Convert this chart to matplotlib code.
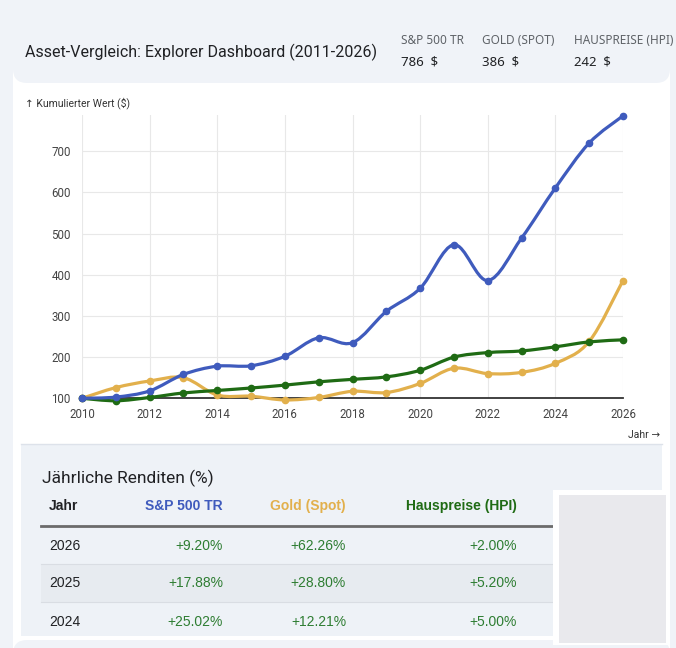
import numpy as np
import matplotlib
matplotlib.use("Agg")
import matplotlib.pyplot as plt
from matplotlib.path import Path
from matplotlib.patches import PathPatch, FancyBboxPatch
from matplotlib.transforms import Affine2D
from matplotlib.lines import Line2D

# --- data ---
years = list(range(2010, 2027))
sp500 = [100, 103, 118, 158, 178, 179, 202, 247, 235, 311, 367, 473, 386, 489, 611, 720, 786]
gold = [100, 126, 142, 150, 108, 105, 96, 102, 117, 114, 136, 173, 160, 163, 185, 238, 386]
hpi = [100, 94, 102, 113, 119, 125, 132, 140, 146, 152, 168, 200, 211, 215, 225, 237, 242]

series_names = ["S&P 500 TR", "Gold (Spot)", "Hauspreise (HPI)"]
kpi_labels = ["S&P 500 TR", "GOLD (SPOT)", "HAUSPREISE (HPI)"]
colors = ["#3f5bbd", "#e2b04c", "#1f6b14"]

table_years = [2026, 2025, 2024]
ret_sp500 = [9.20, 17.88, 25.02]
ret_gold = [62.26, 28.80, 12.21]
ret_hpi = [2.00, 5.20, 5.00]

W, H = 676, 648
fig = plt.figure(figsize=(W / 100, H / 100), dpi=100)
fig.patch.set_facecolor("#f0f3f8")
# pixel coords, origin top-left
pix = Affine2D().scale(1 / W, -1 / H).translate(0, 1) + fig.transFigure


def box(x0, y0, x1, y1, fc, r=0, z=-2):
    p = FancyBboxPatch((x0, y1), x1 - x0, y0 - y1,
                       boxstyle=f"round,pad=0,rounding_size={r}" if r else "square,pad=0",
                       transform=pix, fc=fc, ec="none", lw=0, zorder=z)
    fig.patches.append(p)


def hline(x0, x1, y, color, lw):
    fig.lines.append(Line2D([x0, x1], [y, y], transform=pix, color=color, lw=lw, zorder=-1))


def txt(x, y, s, **kw):
    fig.text(x, y, s, transform=pix, va="baseline", **kw)


# header
txt(25, 57, "Asset-Vergleich: Explorer Dashboard (2011-2026)", family="Roboto",
    fontsize=11.5, color="#202124")
kpi_x = [401, 482, 574]
for x, lab, vals in zip(kpi_x, kpi_labels, [sp500, gold, hpi]):
    txt(x, 44, lab, family="Noto Sans", fontsize=8.5, color="#5f6368")
    txt(x, 66, f"{vals[-1]:.0f}  $", family="Noto Sans", fontsize=9.5,
        fontweight="bold", color="#202124")

# chart card
box(13, 83, 670, 640, "white", r=14, z=-3)

# table section background
box(21, 444, 662, 636, "#eef2f7")
hline(21, 662, 444, "#dde2ea", 1)

# chart
ax = fig.add_axes([82 / W, 1 - 398.3 / H, 541 / W, (398.3 - 115) / H])
ax.set_zorder(1)
ax.set_facecolor("none")
ax.set_xlim(2010, 2026)
ax.set_ylim(100, 788)
ax.set_xticks(range(2010, 2027, 2))
ax.set_yticks(range(100, 701, 100))
ax.grid(True, color="#e8e8e8", lw=0.8)
ax.set_axisbelow(True)
for s in ["top", "right", "left"]:
    ax.spines[s].set_visible(False)
ax.spines["bottom"].set_color("#333333")
ax.spines["bottom"].set_linewidth(1.3)
ax.tick_params(length=0, labelsize=8.3, labelcolor="#444444")
ax.tick_params(axis="x", pad=7)
ax.tick_params(axis="y", pad=8)
for lab in ax.get_xticklabels() + ax.get_yticklabels():
    lab.set_family("Roboto")


def smooth_path(xs, ys):
    pts = np.column_stack([xs, ys]).astype(float)
    n = len(pts)
    verts, codes = [pts[0]], [Path.MOVETO]
    for i in range(n - 1):
        p0, p1 = pts[max(i - 1, 0)], pts[i]
        p2, p3 = pts[i + 1], pts[min(i + 2, n - 1)]
        verts += [p1 + (p2 - p0) / 6, p2 - (p3 - p1) / 6, p2]
        codes += [Path.CURVE4] * 3
    return Path(verts, codes)


for vals, c, z in zip([gold, hpi, sp500], [colors[1], colors[2], colors[0]], [3, 4, 5]):
    ax.add_patch(PathPatch(smooth_path(years, vals), fill=False, ec=c, lw=2.3,
                           capstyle="round", joinstyle="round", clip_on=False, zorder=z))
    ax.plot(years, vals, "o", color=c, ms=4.5, clip_on=False, zorder=z)

txt(25, 106, "↑ Kumulierter Wert ($)", family=["Roboto", "DejaVu Sans"],
    fontsize=7.5, color="#333333")
txt(660, 438, "Jahr →", family=["Roboto", "DejaVu Sans"], fontsize=7.5,
    color="#333333", ha="right")

# table
txt(42, 483, "Jährliche Renditen (%)", family="Roboto", fontsize=12.5, color="#202124")
row_y = [545.7, 583.3, 621.7]
box(41, 564, 560, 602, "#e7ebf0", z=-1.5)
hline(41, 560, 564, "#d9dde3", 0.8)
hline(41, 560, 602, "#d9dde3", 0.8)
hline(41, 560, 526, "#6b6b6b", 2)

col_right = [223, 346, 517]
fig.text(49, 506, "Jahr", transform=pix, va="center", family="Liberation Sans",
         fontsize=10, fontweight="bold", color="#202124")
for x, name, c in zip(col_right, series_names, colors):
    fig.text(x, 506, name, transform=pix, va="center", ha="right",
             family="Liberation Sans", fontsize=10, fontweight="bold", color=c)

for y, yr, a, b, d in zip(row_y, table_years, ret_sp500, ret_gold, ret_hpi):
    fig.text(49, y, str(yr), transform=pix, va="center", family="Liberation Sans",
             fontsize=10, color="#202124")
    for x, v in zip(col_right, [a, b, d]):
        fig.text(x, y, f"{v:+.2f}%", transform=pix, va="center", ha="right",
                 family="Liberation Sans", fontsize=10, color="#2e7d32")

# grey placeholder box at lower right
box(553, 490, 668, 645, "white", z=5)
box(559, 495, 666, 643, "#e9e9ed", z=6)

fig.savefig("out.png", dpi=100, facecolor=fig.get_facecolor())
